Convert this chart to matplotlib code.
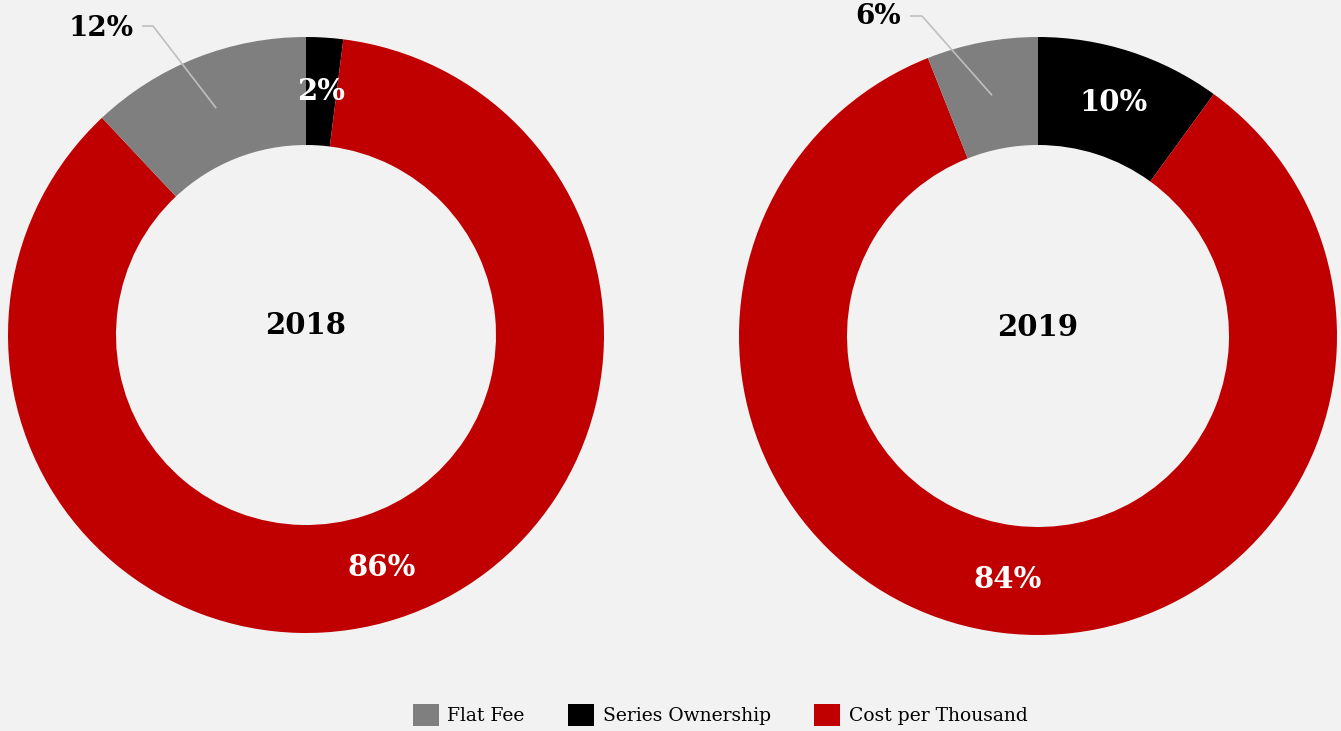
import numpy as np
import matplotlib
matplotlib.use("Agg")
import matplotlib.pyplot as plt
from matplotlib.patches import Patch

# ---- data ----
years = ["2018", "2019"]
categories = ["Flat Fee", "Series Ownership", "Cost per Thousand"]
colors = {"Flat Fee": "#7f7f7f", "Series Ownership": "#000000", "Cost per Thousand": "#c00000"}
# slice order clockwise from 12 o'clock
slice_order = ["Series Ownership", "Cost per Thousand", "Flat Fee"]
values_2018 = [2, 86, 12]
values_2019 = [10, 84, 6]

W, H = 1341, 731
BG = "#f2f2f2"
FONT = "DejaVu Serif"

fig = plt.figure(figsize=(W / 100, H / 100), dpi=100, facecolor=BG)
ax = fig.add_axes([0, 0, 1, 1])
ax.set_facecolor(BG)

donuts = [
    dict(year="2018", vals=values_2018, center=(306, H - 335), r=298,
         outside={"Flat Fee": ((101, H - 28), (153, H - 26), (142, H - 26))}),
    dict(year="2019", vals=values_2019, center=(1038, H - 336), r=299,
         outside={"Flat Fee": ((878, H - 17), (922, H - 16), (910, H - 16))}),
]

ring = 108
for d in donuts:
    cx, cy = d["center"]
    r = d["r"]
    ax.pie(d["vals"], colors=[colors[c] for c in slice_order],
           startangle=90, counterclock=False, center=(cx, cy),
           radius=r, wedgeprops=dict(width=ring, linewidth=0), frame=True)
    total = sum(d["vals"])
    cum = 0
    rm = r - ring / 2
    for cat, v in zip(slice_order, d["vals"]):
        mid = (cum + v / 2) / total * 2 * np.pi
        cum += v
        px = cx + rm * np.sin(mid)
        py = cy + rm * np.cos(mid)
        label = f"{v}%"
        if cat in d["outside"]:
            (tx, ty), (e1x, e1y), (e2x, e2y) = d["outside"][cat]
            ax.plot([px, e1x, e2x], [py, e1y, e2y], color="#bfbfbf", lw=1.2,
                    solid_capstyle="butt")
            ax.text(tx, ty, label, ha="center", va="center", fontsize=20,
                    fontweight="bold", family=FONT, color="black")
        else:
            ax.text(px, py, label, ha="center", va="center", fontsize=21,
                    fontweight="bold", family=FONT, color="white")
    ax.text(cx, cy + 9, d["year"], ha="center", va="center", fontsize=21,
            fontweight="bold", family=FONT, color="black")

ax.set_xlim(0, W)
ax.set_ylim(0, H)
ax.set_aspect("equal")
ax.axis("off")

handles = [Patch(facecolor=colors[c], edgecolor="none") for c in categories]
fig.legend(handles, categories, loc="center", bbox_to_anchor=(720 / W, 1 - 715 / H),
           ncol=3, frameon=False, prop=dict(family=FONT, size=13.5),
           handlelength=1.4, handleheight=1.4, handletextpad=0.45, columnspacing=2.3)

fig.savefig("out.png", dpi=100, facecolor=BG)
